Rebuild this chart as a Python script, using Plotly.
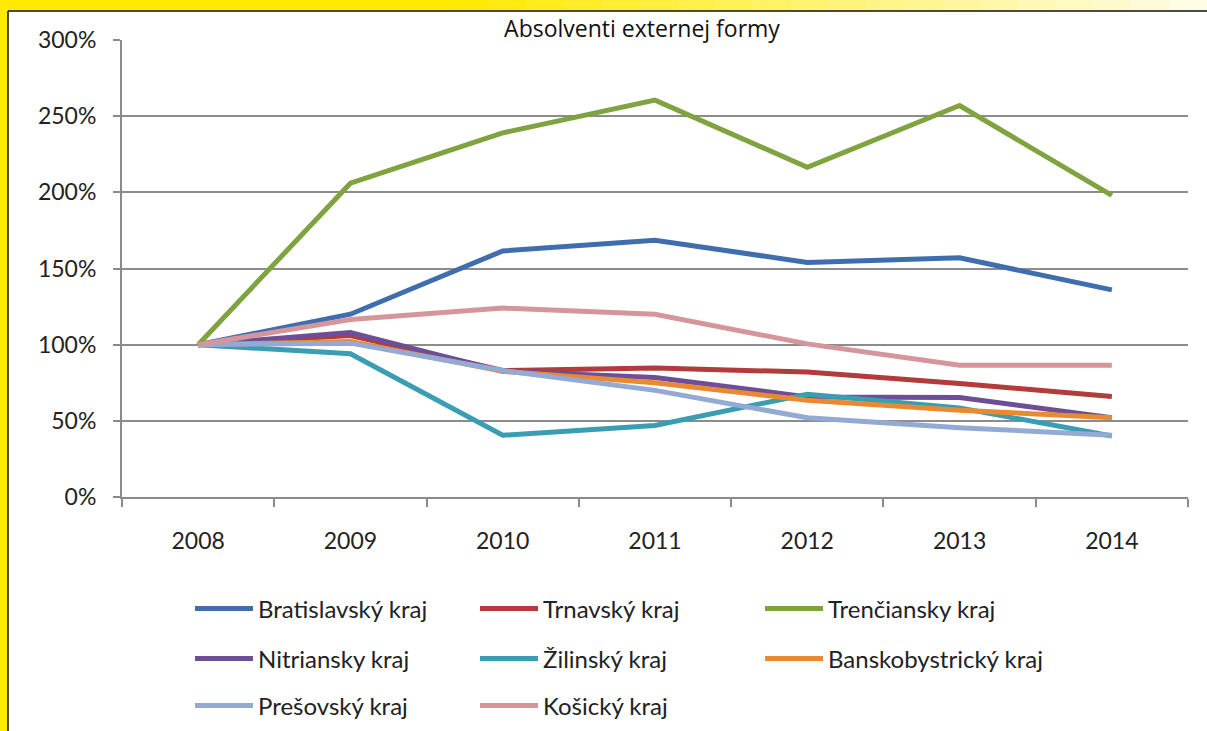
import plotly.graph_objects as go

# ---------------- data ----------------
years = ["2008", "2009", "2010", "2011", "2012", "2013", "2014"]
bratislavsky = [100, 120, 161.5, 168.5, 154, 157, 136]
trnavsky = [100, 106, 83, 84.7, 82, 74.5, 66]
trenciansky = [100, 206, 239, 260.5, 216.5, 257, 198]
nitriansky = [100, 108, 82.5, 78.5, 65.7, 65.3, 52]
zilinsky = [100, 94, 40.5, 47, 67.5, 58.5, 40]
banskobystricky = [100, 102, 82.5, 75, 63.5, 57, 52]
presovsky = [100, 101, 83, 70, 52, 45.5, 40.5]
kosicky = [100, 116.5, 124, 120, 100.5, 86.5, 86.5]

series_names = ["Bratislavský kraj", "Trnavský kraj", "Trenčiansky kraj",
                "Nitriansky kraj", "Žilinský kraj", "Banskobystrický kraj",
                "Prešovský kraj", "Košický kraj"]
series_values = [bratislavsky, trnavsky, trenciansky, nitriansky, zilinsky,
                 banskobystricky, presovsky, kosicky]
series_colors = ["#3F6DAE", "#B23B3B", "#7FA33F", "#6E4F97", "#3A9DB2",
                 "#E98A33", "#93AAD4", "#D5969B"]
legend_rows = ["legend", "legend", "legend", "legend2", "legend2", "legend2",
               "legend3", "legend3"]

title_text = "Absolventi externej formy"
y_tick_vals = [0, 50, 100, 150, 200, 250, 300]
y_tick_text = ["0%", "50%", "100%", "150%", "200%", "250%", "300%"]

# ---------------- layout constants ----------------
W, H = 1207, 731
L, R, T, B = 122, 19, 40, 234
PW, PH = W - L - R, H - T - B
FONT = "Lato, 'Open Sans', sans-serif"


def px2x(px):
    return (px - L) / PW


def py2y(py):
    return (H - B - py) / PH


fig = go.Figure()
for name, vals, col, lg in zip(series_names, series_values, series_colors, legend_rows):
    fig.add_trace(go.Scatter(
        x=years, y=vals, mode="lines", name=name,
        line=dict(color=col, width=5),
        legend=lg,
    ))

# frame: yellow strips + black border lines
shapes = []
shapes.append(dict(type="rect", xref="paper", yref="paper",
                   x0=px2x(0), x1=px2x(8), y0=py2y(H), y1=py2y(0),
                   fillcolor="#FFEA00", line=dict(width=0), layer="below"))
n_seg = 20
start, end = 450, W
shapes.append(dict(type="rect", xref="paper", yref="paper",
                   x0=px2x(0), x1=px2x(start), y0=py2y(11), y1=py2y(0),
                   fillcolor="#FFEA00", line=dict(width=0), layer="below"))
c0 = (255, 234, 0)
c1 = (255, 252, 235)
for i in range(n_seg):
    a = start + (end - start) * i / n_seg
    b = start + (end - start) * (i + 1) / n_seg
    t = (i + 0.5) / n_seg
    c = tuple(int(round(c0[k] + (c1[k] - c0[k]) * t)) for k in range(3))
    shapes.append(dict(type="rect", xref="paper", yref="paper",
                       x0=px2x(a), x1=px2x(b + 1), y0=py2y(11), y1=py2y(0),
                       fillcolor="rgb(%d,%d,%d)" % c, line=dict(width=0), layer="below"))
shapes.append(dict(type="line", xref="paper", yref="paper",
                   x0=px2x(8), x1=px2x(8), y0=py2y(H), y1=py2y(11),
                   line=dict(color="#111111", width=1.5), layer="below"))
shapes.append(dict(type="line", xref="paper", yref="paper",
                   x0=px2x(8), x1=px2x(W), y0=py2y(11), y1=py2y(11),
                   line=dict(color="#111111", width=1.5), layer="below"))

legend_common = dict(orientation="h", xanchor="left", yanchor="middle",
                     x=px2x(190), font=dict(family=FONT, size=24, color="#222222"),
                     entrywidth=212, entrywidthmode="pixels",
                     bgcolor="rgba(0,0,0,0)", itemwidth=58, traceorder="normal")

fig.update_layout(
    width=W, height=H,
    margin=dict(l=L, r=R, t=T, b=B, pad=0, autoexpand=False),
    paper_bgcolor="white", plot_bgcolor="white",
    title=dict(text=title_text, x=642 / W, xanchor="center", y=1 - 29 / H,
               yanchor="middle", font=dict(family="'Open Sans', sans-serif", size=23, color="#111111")),
    font=dict(family=FONT, size=23, color="#333333"),
    shapes=shapes,
    showlegend=True,
    legend=dict(legend_common, y=py2y(609)),
    legend2=dict(legend_common, y=py2y(659)),
    legend3=dict(legend_common, y=py2y(706)),
    xaxis=dict(
        type="category", range=[-0.5, 6.5],
        showgrid=False, showline=True, linecolor="#8a8a8a", linewidth=2,
        ticks="outside", tickson="boundaries", ticklen=8, tickwidth=2, tickcolor="#8a8a8a",
        ticklabelstandoff=22,
        tickfont=dict(family=FONT, size=23, color="#222222"),
        zeroline=False,
    ),
    yaxis=dict(
        range=[0, 300], tickmode="array", tickvals=y_tick_vals, ticktext=y_tick_text,
        showgrid=True, gridcolor="#8c8c8c", gridwidth=2,
        showline=True, linecolor="#8a8a8a", linewidth=2,
        ticks="outside", ticklen=7, tickwidth=2, tickcolor="#8a8a8a",
        ticklabelstandoff=12,
        tickfont=dict(family=FONT, size=23, color="#222222"),
        zeroline=False,
    ),
)

fig.write_html("out.html", config={"displayModeBar": False},
               post_script="document.body.style.margin='0';")
